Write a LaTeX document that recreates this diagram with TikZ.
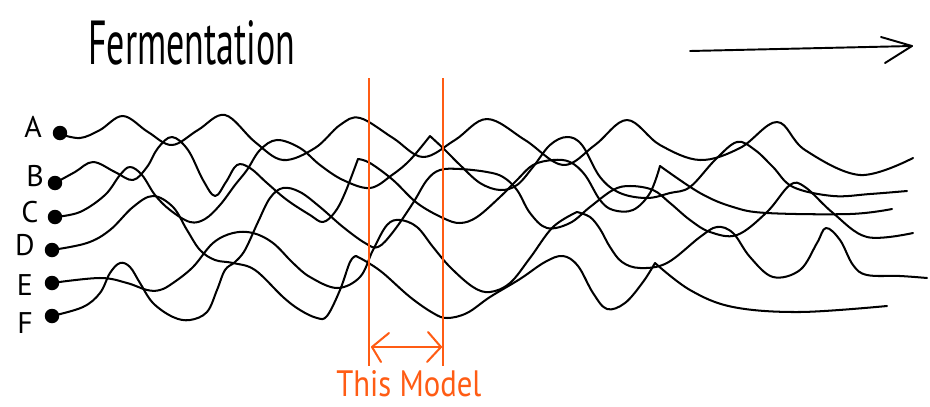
\documentclass[tikz,border=0pt]{standalone}
\usepackage{fontspec}
\setmainfont{PT Sans}
\usepackage{graphicx}
\definecolor{modelorange}{RGB}{255,92,20}
\begin{document}
\begin{tikzpicture}[x=0.02cm,y=-0.02cm,
  curve/.style={line width=1.15pt,black,line cap=round,line join=round},
  seed/.style={circle,fill=black,inner sep=0pt,minimum size=0.29cm},
  letter/.style={font=\fontsize{17}{17}\selectfont},
  orangeline/.style={line width=1.15pt,modelorange}]
\useasboundingbox (0,0) rectangle (930,406);

% title and time arrow
\node[anchor=south west,inner sep=0pt] (title) at (88,66) {\resizebox{4.14cm}{0.88cm}{Fermentation}};
\coordinate (tS) at (690,51);
\coordinate (tE) at (912,46);
\coordinate (tU) at (881,37);
\coordinate (tL) at (885,63);
\draw[curve,line width=1.1pt] (tS) -- (tE);
\draw[curve,line width=1.1pt] (tU) -- (tE) -- (tL);

% seeds and labels
\node[seed] (dA) at (60,133) {};
\node[seed] (dB) at (55,183) {};
\node[seed] (dC) at (55,217) {};
\node[seed] (dD) at (52,250) {};
\node[seed] (dE) at (52,283) {};
\node[seed] (dF) at (52,316) {};
\node[letter] (lA) at (33,127) {A};
\node[letter] (lB) at (35,176) {B};
\node[letter] (lC) at (30,212) {C};
\node[letter] (lD) at (25,245) {D};
\node[letter] (lE) at (25,285) {E};
\node[letter] (lF) at (25,323) {F};

% curve A (top wave)
\draw[curve] plot[smooth,tension=0.6] coordinates {(60,134) (80,138) (100,130) (123,116) (148,132) (172,145) (198,130) (225,115) (255,142) (283,160) (315,148) (340,125) (360,118) (393,138) (423,157) (455,140) (487,119) (525,140) (563,165) (595,145) (627,120) (660,145) (700,160) (740,148) (777,122) (805,150) (860,175) (913,158)};

% curve B
\draw[curve] plot[smooth,tension=0.6] coordinates {(55,183) (75,172) (93,162) (115,172) (133,180) (147,167) (158,148) (172,137) (188,150) (203,180) (215,196) (226,182) (237,165) (250,168) (267,183) (287,200) (310,215) (323,222) (335,212) (345,193) (358,159)};
\draw[curve] plot[smooth,tension=0.6] coordinates {(358,159) (370,163) (393,180) (417,203) (443,218) (460,223) (477,217) (500,197) (517,180) (533,165) (553,160) (570,162) (585,175) (600,200) (613,210) (633,210) (650,193) (660,166)};
\draw[curve] plot[smooth,tension=0.6] coordinates {(660,166) (700,193) (733,207) (767,213) (850,214) (892,209)};

% curve C
\draw[curve] plot[smooth,tension=0.6] coordinates {(55,217) (80,212) (105,195) (120,175) (130,167) (142,175) (155,195) (170,210) (190,222) (205,219) (220,205) (235,185) (247,170) (260,150) (277,140) (300,148) (320,165) (343,180) (370,188) (392,175) (410,160) (430,136)};
\draw[curve] plot[smooth,tension=0.6] coordinates {(430,136) (445,150) (460,165) (480,183) (500,190) (517,185) (533,167) (550,145) (567,137) (582,145) (600,177) (620,193) (647,198) (670,193) (690,187) (715,160) (737,142) (755,150) (773,167) (793,187) (833,196) (870,194) (907,191)};

% curve D
\draw[curve] plot[smooth,tension=0.6] coordinates {(52,250) (87,243) (110,230) (133,207) (153,196) (173,207) (187,230) (200,250) (215,260) (233,263) (255,270) (283,297) (300,310) (317,318) (327,316) (340,290) (350,262) (356,256)};
\draw[curve] plot[smooth,tension=0.6] coordinates {(356,256) (367,262) (383,273) (410,297) (433,313) (447,318) (467,313) (490,297) (520,279) (545,262) (563,256) (578,266) (593,293) (607,309) (625,303) (643,282) (655,263)};
\draw[curve] plot[smooth,tension=0.6] coordinates {(655,263) (690,290) (733,307) (800,312) (887,306)};

% curve E
\draw[curve] plot[smooth,tension=0.6] coordinates {(52,283) (100,278) (127,283) (147,290) (160,290) (173,283) (193,267) (213,243) (233,233) (253,233) (273,243) (293,263) (310,277) (337,288) (360,277) (373,250) (387,225) (400,220) (417,227) (433,247) (450,267) (473,287) (490,292) (510,283) (530,258) (553,227) (577,212)};
\draw[curve] plot[smooth,tension=0.6] coordinates {(577,212) (590,217) (600,229) (610,247) (622,262) (640,268) (667,263) (700,237) (717,227) (733,233) (750,257) (773,277) (800,270) (817,243) (826,228) (840,240) (853,265) (867,275) (900,276) (927,278)};

% curve F
\draw[curve] plot[smooth,tension=0.6] coordinates {(52,316) (83,307) (100,293) (110,273) (120,263) (130,267) (140,283) (153,303) (173,317) (190,320) (207,312) (217,290) (225,270) (235,262) (245,250) (258,222) (270,198) (283,188) (300,192) (320,207) (343,227) (365,243) (378,247) (393,232) (413,203) (427,180) (440,170) (460,169) (487,172) (503,177) (517,190) (530,213) (547,228) (570,223) (590,207) (613,190) (630,186) (653,190) (670,203) (690,220) (710,232) (737,235) (767,212) (790,185) (805,187) (833,213) (867,237) (913,233)};

% model window
\coordinate (mL1) at (369,78);
\coordinate (mL2) at (369,366);
\coordinate (mR1) at (443,78);
\coordinate (mR2) at (443,366);
\draw[orangeline] (mL1) -- (mL2);
\draw[orangeline] (mR1) -- (mR2);
\coordinate (aL) at (372,347);
\coordinate (aR) at (441,347);
\draw[orangeline,line cap=round] (aL) -- (aR);
\draw[orangeline,line cap=round,line join=round] (389,333) -- (aL) -- (381,362);
\draw[orangeline,line cap=round,line join=round] (428,332) -- (aR) -- (427,362);
\node[anchor=south west,inner sep=0pt,text=modelorange] (model) at (336,397) {\resizebox{2.9cm}{0.52cm}{This Model}};
\end{tikzpicture}
\end{document}
